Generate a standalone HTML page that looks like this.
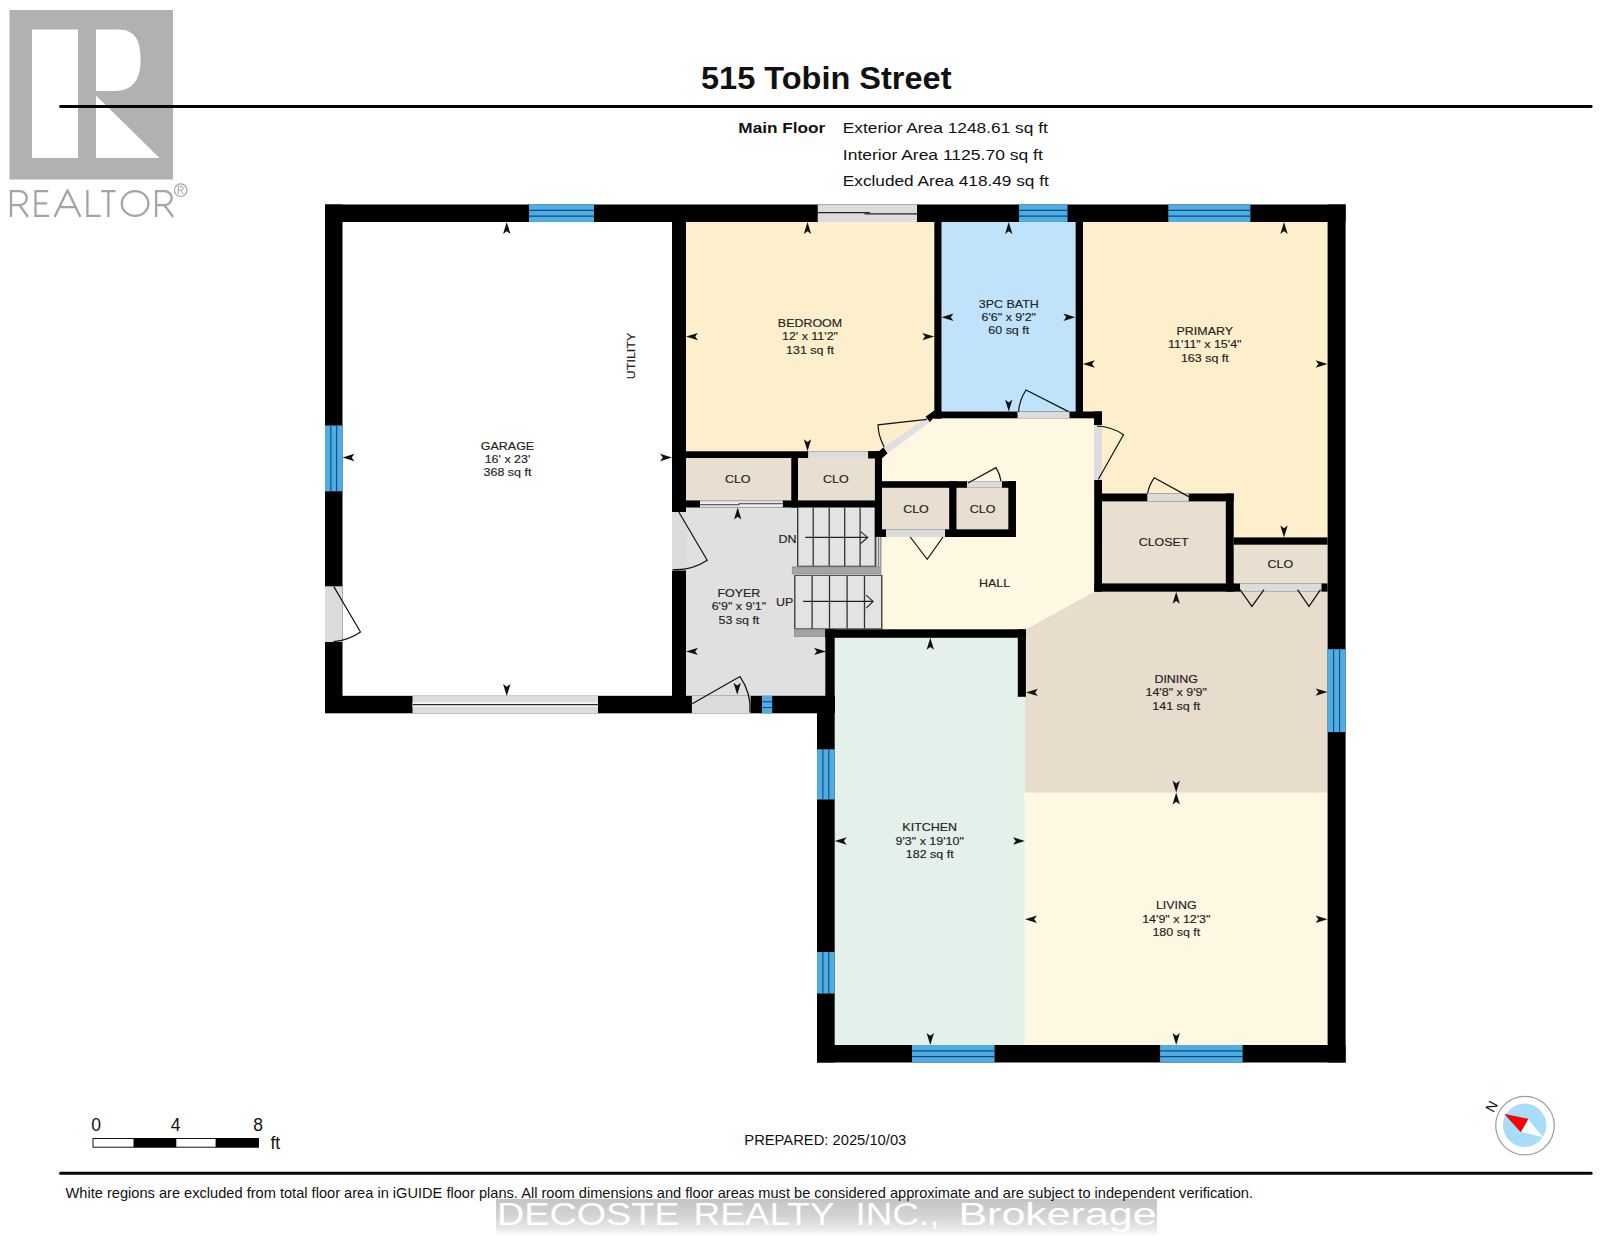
<!DOCTYPE html>
<html><head><meta charset="utf-8"><style>
html,body{margin:0;padding:0;background:#fff;}
body{width:1600px;height:1243px;overflow:hidden;position:relative;font-family:"Liberation Sans",sans-serif;}
svg{position:absolute;left:0;top:0;}
svg text{font-family:"Liberation Sans",sans-serif;}
</style></head><body>
<svg width="1600" height="1243" viewBox="0 0 1600 1243">
<!-- realtor logo -->
<g>
<rect x="9.5" y="10" width="163.5" height="169.5" fill="#b1b1b1"/>
<rect x="32" y="29.5" width="46" height="128.5" fill="#fff"/>
<path d="M96,29.5 L118,29.5 C137,29.5 140.5,43 140.5,60.5 C140.5,80 132,91 115,91 L96,91 Z" fill="#fff"/>
<polygon points="96,95.5 159.5,158 96,158" fill="#fff"/>
<g fill="none" stroke="#a4a4a4" stroke-width="2.3">
<path d="M11,217 V191.1 H19.8 A7,7 0 0 1 19.8,205.1 H11 M19.5,205.1 L28,217"/>
<path d="M48.2,191.1 H35.5 V215.9 H49 M35.5,203.4 H47.2"/>
<path d="M54.6,217 L67.5,190.2 L80.4,217 M59.3,207.2 H75.7" stroke-linejoin="round"/>
<path d="M87.4,190 V215.9 H100.6"/>
<path d="M101.2,191.1 H115.6 M108.4,191.1 V217"/>
<ellipse cx="135.1" cy="203.5" rx="13.3" ry="12.4"/>
<path d="M156.1,217 V191.1 H164.7 A7,7 0 0 1 164.7,205.1 H156.1 M164.4,205.1 L173.2,217"/>
<circle cx="180.7" cy="190.2" r="6.3" stroke-width="1.2"/>
<path d="M178.3,194 V186.4 H181.4 A1.9,1.9 0 0 1 181.4,190.2 H178.3 M181,190.2 L183.3,194" stroke-width="1"/>
</g>
</g>
<!-- header -->
<text x="701" y="88.5" font-size="31.5" font-weight="bold" fill="#111" textLength="250.5" lengthAdjust="spacingAndGlyphs">515 Tobin Street</text>
<rect x="59.1" y="105" width="1533.5" height="2.9" rx="1.4" fill="#050505"/>
<text x="738.3" y="132.8" font-size="15.2" font-weight="bold" fill="#111" textLength="87" lengthAdjust="spacingAndGlyphs">Main Floor</text>
<text x="842.8" y="132.8" font-size="15.2" fill="#111" textLength="205" lengthAdjust="spacingAndGlyphs">Exterior Area 1248.61 sq ft</text>
<text x="842.8" y="159.5" font-size="15.2" fill="#111" textLength="200" lengthAdjust="spacingAndGlyphs">Interior Area 1125.70 sq ft</text>
<text x="842.8" y="186.3" font-size="15.2" fill="#111" textLength="206" lengthAdjust="spacingAndGlyphs">Excluded Area 418.49 sq ft</text>
<rect x="686.00" y="222.00" width="248.30" height="229.30" fill="#fdefcb" />
<rect x="941.50" y="222.00" width="133.90" height="189.60" fill="#bfe3fb" />
<rect x="1082.80" y="222.00" width="244.80" height="315.40" fill="#fdefcb" />
<rect x="1101.00" y="418.00" width="139.00" height="75.50" fill="#fdefcb" />
<polygon points="929.80,418.50 1094.60,418.50 1094.60,591.70 1028.00,629.50 882.00,629.50 882.00,455.00 887.60,453.20" fill="#fef8e3" />
<polygon points="1025.90,629.50 1094.20,591.70 1327.60,591.70 1327.60,792.80 1024.40,792.80 1024.40,696.80" fill="#e8ddcc" />
<rect x="1024.40" y="792.80" width="303.20" height="252.20" fill="#fef8e2" />
<rect x="834.70" y="637.80" width="189.70" height="407.20" fill="#e3f1ea" />
<rect x="686.00" y="507.50" width="139.50" height="188.50" fill="#e0e0e0" />
<rect x="686.00" y="507.50" width="196.00" height="121.80" fill="#e0e0e0" />
<rect x="686.00" y="458.00" width="105.25" height="42.40" fill="#e8dfd0" />
<rect x="798.00" y="458.00" width="76.90" height="42.40" fill="#e8dfd0" />
<rect x="882.00" y="487.80" width="67.20" height="41.50" fill="#e8dfd0" />
<rect x="956.50" y="487.80" width="51.80" height="41.50" fill="#e8dfd0" />
<rect x="1102.00" y="501.40" width="123.80" height="82.00" fill="#e8dfd0" />
<rect x="1233.70" y="544.70" width="93.90" height="38.70" fill="#e8dfd0" />
<rect x="797.50" y="507.50" width="78.80" height="59.10" fill="#e3e3e3" />
<rect x="794.00" y="574.50" width="88.00" height="54.80" fill="#e3e3e3" />
<rect x="792.30" y="566.90" width="88.40" height="7.00" fill="#a3a3a3" stroke="#8c8c8c" stroke-width="0.8"/>
<rect x="794.40" y="629.90" width="31.00" height="6.50" fill="#a3a3a3" stroke="#8c8c8c" stroke-width="0.8"/>
<line x1="797.70" y1="507.50" x2="797.70" y2="566.30" stroke="#333" stroke-width="1.3"/>
<line x1="813.20" y1="507.50" x2="813.20" y2="566.30" stroke="#333" stroke-width="1.3"/>
<line x1="829.20" y1="507.50" x2="829.20" y2="566.30" stroke="#333" stroke-width="1.3"/>
<line x1="844.70" y1="507.50" x2="844.70" y2="566.30" stroke="#333" stroke-width="1.3"/>
<line x1="860.10" y1="507.50" x2="860.10" y2="566.30" stroke="#333" stroke-width="1.3"/>
<line x1="875.30" y1="507.50" x2="875.30" y2="566.30" stroke="#333" stroke-width="1.3"/>
<line x1="797.70" y1="566.20" x2="875.30" y2="566.20" stroke="#444" stroke-width="1.0"/>
<line x1="794.80" y1="575.40" x2="794.80" y2="628.80" stroke="#333" stroke-width="1.3"/>
<line x1="812.10" y1="575.40" x2="812.10" y2="628.80" stroke="#333" stroke-width="1.3"/>
<line x1="829.50" y1="575.40" x2="829.50" y2="628.80" stroke="#333" stroke-width="1.3"/>
<line x1="847.10" y1="575.40" x2="847.10" y2="628.80" stroke="#333" stroke-width="1.3"/>
<line x1="864.50" y1="575.40" x2="864.50" y2="628.80" stroke="#333" stroke-width="1.3"/>
<line x1="881.80" y1="575.40" x2="881.80" y2="628.80" stroke="#333" stroke-width="1.3"/>
<line x1="794.40" y1="575.40" x2="882.40" y2="575.40" stroke="#444" stroke-width="1.0"/>
<line x1="794.40" y1="628.80" x2="882.40" y2="628.80" stroke="#444" stroke-width="1.0"/>
<line x1="876.00" y1="537.00" x2="876.00" y2="566.60" stroke="#555" stroke-width="0.9"/>
<line x1="878.60" y1="537.00" x2="878.60" y2="566.60" stroke="#666" stroke-width="0.9"/>
<line x1="880.80" y1="537.00" x2="880.80" y2="566.60" stroke="#777" stroke-width="0.9"/>
<line x1="805.30" y1="537.40" x2="867.70" y2="537.40" stroke="#222" stroke-width="1.1"/>
<path d="M860.7,531.6 L867.7,537.4 L860.7,543.5" stroke="#222" stroke-width="1.1" fill="none"/>
<line x1="803.10" y1="601.40" x2="873.10" y2="601.40" stroke="#222" stroke-width="1.1"/>
<path d="M866.1,595.1 L873.1,601.4 L866.1,608.1" stroke="#222" stroke-width="1.1" fill="none"/>
<rect x="325.00" y="204.50" width="1020.60" height="17.50" fill="#000" />
<rect x="325.00" y="204.50" width="17.50" height="508.50" fill="#000" />
<rect x="325.00" y="695.80" width="509.70" height="17.50" fill="#000" />
<rect x="817.00" y="696.00" width="17.70" height="366.50" fill="#000" />
<rect x="817.00" y="1045.00" width="528.60" height="17.50" fill="#000" />
<rect x="1327.60" y="204.50" width="18.00" height="858.00" fill="#000" />
<rect x="672.00" y="222.00" width="14.00" height="474.00" fill="#000" />
<rect x="934.30" y="222.00" width="7.20" height="196.50" fill="#000" />
<rect x="1075.60" y="222.00" width="7.40" height="196.00" fill="#000" />
<rect x="934.30" y="411.50" width="167.70" height="6.80" fill="#000" />
<rect x="1094.00" y="411.50" width="8.00" height="13.50" fill="#000" />
<rect x="1094.20" y="480.00" width="7.80" height="111.70" fill="#000" />
<rect x="686.00" y="451.25" width="196.00" height="6.75" fill="#000" />
<rect x="874.90" y="451.25" width="7.10" height="85.75" fill="#000" />
<rect x="791.25" y="458.00" width="6.75" height="49.50" fill="#000" />
<rect x="686.00" y="500.40" width="196.00" height="7.10" fill="#000" />
<polygon points="868.20,451.20 879.00,451.20 883.60,447.30 887.60,453.20 882.00,458.50 868.20,458.50" fill="#000" />
<polygon points="925.50,416.80 934.30,410.50 941.50,410.50 941.50,418.60 933.00,418.60 929.80,422.20" fill="#000" />
<rect x="882.00" y="481.20" width="134.00" height="6.60" fill="#000" />
<rect x="949.20" y="481.20" width="7.30" height="55.80" fill="#000" />
<rect x="1008.30" y="481.20" width="7.70" height="55.80" fill="#000" />
<rect x="875.40" y="529.30" width="140.60" height="7.70" fill="#000" />
<rect x="1101.80" y="493.50" width="131.90" height="7.90" fill="#000" />
<rect x="1225.80" y="493.50" width="7.90" height="98.20" fill="#000" />
<rect x="1094.40" y="583.40" width="233.20" height="8.30" fill="#000" />
<rect x="1233.70" y="537.40" width="93.90" height="7.30" fill="#000" />
<rect x="825.30" y="629.30" width="200.60" height="8.50" fill="#000" />
<rect x="825.30" y="629.30" width="9.40" height="84.00" fill="#000" />
<rect x="1017.80" y="629.30" width="8.10" height="67.50" fill="#000" />
<rect x="817.75" y="204.50" width="99.25" height="17.50" fill="#dcdcdc" />
<line x1="818.00" y1="212.60" x2="870.00" y2="212.60" stroke="#222" stroke-width="1.2"/>
<line x1="864.50" y1="213.80" x2="917.00" y2="213.80" stroke="#222" stroke-width="1.2"/>
<rect x="325.00" y="586.30" width="17.50" height="55.70" fill="#dcdcdc" />
<rect x="412.50" y="695.80" width="185.50" height="17.50" fill="#dcdcdc" />
<rect x="412.50" y="702.30" width="185.50" height="4.60" fill="#f4f4f4" />
<line x1="412.50" y1="704.60" x2="598.00" y2="704.60" stroke="#2a2a2a" stroke-width="1.3"/>
<rect x="672.00" y="512.00" width="14.00" height="58.50" fill="#dcdcdc" />
<rect x="691.90" y="696.00" width="58.70" height="17.30" fill="#dcdcdc" />
<rect x="1017.50" y="411.60" width="52.00" height="6.90" fill="#dcdcdc" />
<rect x="808.10" y="451.25" width="60.00" height="6.75" fill="#dcdcdc" />
<rect x="700.00" y="500.40" width="82.80" height="7.10" fill="#dcdcdc" />
<rect x="700.00" y="502.60" width="82.80" height="3.60" fill="#f2f2f2" />
<line x1="700.00" y1="504.70" x2="739.50" y2="504.70" stroke="#333" stroke-width="1.1"/>
<line x1="738.50" y1="503.80" x2="782.80" y2="503.80" stroke="#333" stroke-width="1.1"/>
<rect x="1094.20" y="425.00" width="7.80" height="55.00" fill="#dcdcdc" />
<rect x="886.00" y="529.30" width="59.00" height="7.70" fill="#dcdcdc" />
<rect x="967.00" y="481.20" width="35.00" height="6.60" fill="#dcdcdc" />
<rect x="1147.30" y="493.50" width="41.40" height="7.90" fill="#dcdcdc" />
<rect x="1240.00" y="583.40" width="81.50" height="8.30" fill="#dcdcdc" />
<polygon points="883.60,447.30 926.20,417.50 929.80,422.20 887.60,453.20" fill="#e0e0e2" />
<rect x="529.00" y="204.50" width="65.00" height="17.50" fill="#4fade2" />
<line x1="529.00" y1="210.33" x2="594.00" y2="210.33" stroke="#0d4a82" stroke-width="1.1"/>
<line x1="529.00" y1="216.17" x2="594.00" y2="216.17" stroke="#0d4a82" stroke-width="1.1"/>
<rect x="1019.00" y="204.50" width="48.50" height="17.50" fill="#4fade2" />
<line x1="1019.00" y1="210.33" x2="1067.50" y2="210.33" stroke="#0d4a82" stroke-width="1.1"/>
<line x1="1019.00" y1="216.17" x2="1067.50" y2="216.17" stroke="#0d4a82" stroke-width="1.1"/>
<rect x="1168.30" y="204.50" width="82.10" height="17.50" fill="#4fade2" />
<line x1="1168.30" y1="210.33" x2="1250.40" y2="210.33" stroke="#0d4a82" stroke-width="1.1"/>
<line x1="1168.30" y1="216.17" x2="1250.40" y2="216.17" stroke="#0d4a82" stroke-width="1.1"/>
<rect x="325.00" y="425.50" width="17.50" height="65.80" fill="#4fade2" />
<line x1="330.83" y1="425.50" x2="330.83" y2="491.30" stroke="#0d4a82" stroke-width="1.1"/>
<line x1="336.67" y1="425.50" x2="336.67" y2="491.30" stroke="#0d4a82" stroke-width="1.1"/>
<rect x="761.90" y="696.00" width="10.30" height="17.30" fill="#4fade2" />
<line x1="761.90" y1="701.77" x2="772.20" y2="701.77" stroke="#0d4a82" stroke-width="1.1"/>
<line x1="761.90" y1="707.53" x2="772.20" y2="707.53" stroke="#0d4a82" stroke-width="1.1"/>
<rect x="817.00" y="749.30" width="17.70" height="50.20" fill="#4fade2" />
<line x1="822.90" y1="749.30" x2="822.90" y2="799.50" stroke="#0d4a82" stroke-width="1.1"/>
<line x1="828.80" y1="749.30" x2="828.80" y2="799.50" stroke="#0d4a82" stroke-width="1.1"/>
<rect x="817.00" y="952.00" width="17.70" height="41.50" fill="#4fade2" />
<line x1="822.90" y1="952.00" x2="822.90" y2="993.50" stroke="#0d4a82" stroke-width="1.1"/>
<line x1="828.80" y1="952.00" x2="828.80" y2="993.50" stroke="#0d4a82" stroke-width="1.1"/>
<rect x="912.00" y="1045.00" width="82.60" height="17.50" fill="#4fade2" />
<line x1="912.00" y1="1050.83" x2="994.60" y2="1050.83" stroke="#0d4a82" stroke-width="1.1"/>
<line x1="912.00" y1="1056.67" x2="994.60" y2="1056.67" stroke="#0d4a82" stroke-width="1.1"/>
<rect x="1160.10" y="1045.00" width="82.50" height="17.50" fill="#4fade2" />
<line x1="1160.10" y1="1050.83" x2="1242.60" y2="1050.83" stroke="#0d4a82" stroke-width="1.1"/>
<line x1="1160.10" y1="1056.67" x2="1242.60" y2="1056.67" stroke="#0d4a82" stroke-width="1.1"/>
<rect x="1327.60" y="649.20" width="18.00" height="82.90" fill="#4fade2" />
<line x1="1333.60" y1="649.20" x2="1333.60" y2="732.10" stroke="#0d4a82" stroke-width="1.1"/>
<line x1="1339.60" y1="649.20" x2="1339.60" y2="732.10" stroke="#0d4a82" stroke-width="1.1"/>
<path d="M333.8,586.6 L360.5,632 A54,54 0 0 1 333.5,641.6" stroke="#111" stroke-width="1.2" fill="none"/>
<path d="M678.8,512 L707.2,560.2 A56.5,56.5 0 0 1 672.7,569.5" stroke="#111" stroke-width="1.2" fill="none"/>
<path d="M692.2,703.75 L740,676.6 A56.5,56.5 0 0 1 750,712.5" stroke="#111" stroke-width="1.2" fill="none"/>
<path d="M927,419.4 L878,424.8 A50,50 0 0 0 884.2,447" stroke="#111" stroke-width="1.2" fill="none"/>
<path d="M1068.6,411.6 L1026,390 A47,47 0 0 0 1018.5,411.6" stroke="#111" stroke-width="1.2" fill="none"/>
<path d="M1098.4,479.2 L1123.5,434.7 A51,51 0 0 0 1097,426" stroke="#111" stroke-width="1.2" fill="none"/>
<path d="M968,483 L996,467.6 A33,33 0 0 1 1001,481.2" stroke="#111" stroke-width="1.2" fill="none"/>
<path d="M1188.7,496.6 L1154.2,477.8 A40,40 0 0 0 1147.5,493.5" stroke="#111" stroke-width="1.2" fill="none"/>
<path d="M910.2,537 L927.2,559.3 L943,537" stroke="#111" stroke-width="1.2" fill="none"/>
<path d="M1240,589.7 L1251.9,606.4 L1264,589.7" stroke="#111" stroke-width="1.2" fill="none"/>
<path d="M1297.5,589.7 L1309,606.4 L1320.5,589.7" stroke="#111" stroke-width="1.2" fill="none"/>
<polygon points="506.75,222.00 510.45,234.00 506.75,231.20 503.05,234.00" fill="#111" />
<polygon points="506.75,696.00 503.05,684.00 506.75,686.80 510.45,684.00" fill="#111" />
<polygon points="342.50,457.50 354.50,453.80 351.70,457.50 354.50,461.20" fill="#111" />
<polygon points="672.00,457.50 660.00,461.20 662.80,457.50 660.00,453.80" fill="#111" />
<polygon points="807.50,222.00 811.20,234.00 807.50,231.20 803.80,234.00" fill="#111" />
<polygon points="807.50,451.30 803.80,439.30 807.50,442.10 811.20,439.30" fill="#111" />
<polygon points="686.00,336.60 698.00,332.90 695.20,336.60 698.00,340.30" fill="#111" />
<polygon points="934.30,336.60 922.30,340.30 925.10,336.60 922.30,332.90" fill="#111" />
<polygon points="1008.75,222.00 1012.45,234.00 1008.75,231.20 1005.05,234.00" fill="#111" />
<polygon points="1008.75,411.60 1005.05,399.60 1008.75,402.40 1012.45,399.60" fill="#111" />
<polygon points="941.50,317.30 953.50,313.60 950.70,317.30 953.50,321.00" fill="#111" />
<polygon points="1075.40,317.30 1063.40,321.00 1066.20,317.30 1063.40,313.60" fill="#111" />
<polygon points="1284.00,222.00 1287.70,234.00 1284.00,231.20 1280.30,234.00" fill="#111" />
<polygon points="1284.00,537.40 1280.30,525.40 1284.00,528.20 1287.70,525.40" fill="#111" />
<polygon points="1082.80,364.00 1094.80,360.30 1092.00,364.00 1094.80,367.70" fill="#111" />
<polygon points="1327.60,364.00 1315.60,367.70 1318.40,364.00 1315.60,360.30" fill="#111" />
<polygon points="737.70,507.50 741.40,519.50 737.70,516.70 734.00,519.50" fill="#111" />
<polygon points="737.20,694.70 733.50,682.70 737.20,685.50 740.90,682.70" fill="#111" />
<polygon points="686.00,651.40 698.00,647.70 695.20,651.40 698.00,655.10" fill="#111" />
<polygon points="826.00,651.40 814.00,655.10 816.80,651.40 814.00,647.70" fill="#111" />
<polygon points="930.30,637.80 934.00,649.80 930.30,647.00 926.60,649.80" fill="#111" />
<polygon points="930.30,1045.00 926.60,1033.00 930.30,1035.80 934.00,1033.00" fill="#111" />
<polygon points="834.70,841.00 846.70,837.30 843.90,841.00 846.70,844.70" fill="#111" />
<polygon points="1025.00,841.00 1013.00,844.70 1015.80,841.00 1013.00,837.30" fill="#111" />
<polygon points="1176.20,591.70 1179.90,603.70 1176.20,600.90 1172.50,603.70" fill="#111" />
<polygon points="1176.20,792.60 1172.50,780.60 1176.20,783.40 1179.90,780.60" fill="#111" />
<polygon points="1025.90,692.40 1037.90,688.70 1035.10,692.40 1037.90,696.10" fill="#111" />
<polygon points="1327.60,692.10 1315.60,695.80 1318.40,692.10 1315.60,688.40" fill="#111" />
<polygon points="1176.20,792.60 1179.90,804.60 1176.20,801.80 1172.50,804.60" fill="#111" />
<polygon points="1176.20,1045.00 1172.50,1033.00 1176.20,1035.80 1179.90,1033.00" fill="#111" />
<polygon points="1025.00,919.20 1037.00,915.50 1034.20,919.20 1037.00,922.90" fill="#111" />
<polygon points="1327.60,919.20 1315.60,922.90 1318.40,919.20 1315.60,915.50" fill="#111" />
<text x="0" y="0" transform="translate(507.50 449.50) scale(1.075 1)" font-size="11.6" text-anchor="middle" fill="#222" stroke="#222" stroke-width="0.15" font-weight="normal">GARAGE</text>
<text x="0" y="0" transform="translate(507.50 462.90) scale(1.075 1)" font-size="11.6" text-anchor="middle" fill="#222" stroke="#222" stroke-width="0.15" font-weight="normal">16' x 23'</text>
<text x="0" y="0" transform="translate(507.50 476.30) scale(1.075 1)" font-size="11.6" text-anchor="middle" fill="#222" stroke="#222" stroke-width="0.15" font-weight="normal">368 sq ft</text>
<text x="0" y="0" transform="translate(810.00 327.00) scale(1.075 1)" font-size="11.6" text-anchor="middle" fill="#222" stroke="#222" stroke-width="0.15" font-weight="normal">BEDROOM</text>
<text x="0" y="0" transform="translate(810.00 340.40) scale(1.075 1)" font-size="11.6" text-anchor="middle" fill="#222" stroke="#222" stroke-width="0.15" font-weight="normal">12' x 11'2"</text>
<text x="0" y="0" transform="translate(810.00 353.80) scale(1.075 1)" font-size="11.6" text-anchor="middle" fill="#222" stroke="#222" stroke-width="0.15" font-weight="normal">131 sq ft</text>
<text x="0" y="0" transform="translate(1008.75 307.50) scale(1.075 1)" font-size="11.6" text-anchor="middle" fill="#222" stroke="#222" stroke-width="0.15" font-weight="normal">3PC BATH</text>
<text x="0" y="0" transform="translate(1008.75 320.90) scale(1.075 1)" font-size="11.6" text-anchor="middle" fill="#222" stroke="#222" stroke-width="0.15" font-weight="normal">6'6" x 9'2"</text>
<text x="0" y="0" transform="translate(1008.75 334.30) scale(1.075 1)" font-size="11.6" text-anchor="middle" fill="#222" stroke="#222" stroke-width="0.15" font-weight="normal">60 sq ft</text>
<text x="0" y="0" transform="translate(1204.80 334.70) scale(1.075 1)" font-size="11.6" text-anchor="middle" fill="#222" stroke="#222" stroke-width="0.15" font-weight="normal">PRIMARY</text>
<text x="0" y="0" transform="translate(1204.80 348.10) scale(1.075 1)" font-size="11.6" text-anchor="middle" fill="#222" stroke="#222" stroke-width="0.15" font-weight="normal">11'11" x 15'4"</text>
<text x="0" y="0" transform="translate(1204.80 361.50) scale(1.075 1)" font-size="11.6" text-anchor="middle" fill="#222" stroke="#222" stroke-width="0.15" font-weight="normal">163 sq ft</text>
<text x="0" y="0" transform="translate(738.90 597.00) scale(1.075 1)" font-size="11.6" text-anchor="middle" fill="#222" stroke="#222" stroke-width="0.15" font-weight="normal">FOYER</text>
<text x="0" y="0" transform="translate(738.90 610.40) scale(1.075 1)" font-size="11.6" text-anchor="middle" fill="#222" stroke="#222" stroke-width="0.15" font-weight="normal">6'9" x 9'1"</text>
<text x="0" y="0" transform="translate(738.90 623.80) scale(1.075 1)" font-size="11.6" text-anchor="middle" fill="#222" stroke="#222" stroke-width="0.15" font-weight="normal">53 sq ft</text>
<text x="0" y="0" transform="translate(929.70 831.40) scale(1.075 1)" font-size="11.6" text-anchor="middle" fill="#222" stroke="#222" stroke-width="0.15" font-weight="normal">KITCHEN</text>
<text x="0" y="0" transform="translate(929.70 844.80) scale(1.075 1)" font-size="11.6" text-anchor="middle" fill="#222" stroke="#222" stroke-width="0.15" font-weight="normal">9'3" x 19'10"</text>
<text x="0" y="0" transform="translate(929.70 858.20) scale(1.075 1)" font-size="11.6" text-anchor="middle" fill="#222" stroke="#222" stroke-width="0.15" font-weight="normal">182 sq ft</text>
<text x="0" y="0" transform="translate(1176.20 682.70) scale(1.075 1)" font-size="11.6" text-anchor="middle" fill="#222" stroke="#222" stroke-width="0.15" font-weight="normal">DINING</text>
<text x="0" y="0" transform="translate(1176.20 696.10) scale(1.075 1)" font-size="11.6" text-anchor="middle" fill="#222" stroke="#222" stroke-width="0.15" font-weight="normal">14'8" x 9'9"</text>
<text x="0" y="0" transform="translate(1176.20 709.50) scale(1.075 1)" font-size="11.6" text-anchor="middle" fill="#222" stroke="#222" stroke-width="0.15" font-weight="normal">141 sq ft</text>
<text x="0" y="0" transform="translate(1176.30 909.40) scale(1.075 1)" font-size="11.6" text-anchor="middle" fill="#222" stroke="#222" stroke-width="0.15" font-weight="normal">LIVING</text>
<text x="0" y="0" transform="translate(1176.30 922.80) scale(1.075 1)" font-size="11.6" text-anchor="middle" fill="#222" stroke="#222" stroke-width="0.15" font-weight="normal">14'9" x 12'3"</text>
<text x="0" y="0" transform="translate(1176.30 936.20) scale(1.075 1)" font-size="11.6" text-anchor="middle" fill="#222" stroke="#222" stroke-width="0.15" font-weight="normal">180 sq ft</text>
<text x="0" y="0" transform="translate(737.70 483.30) scale(1.075 1)" font-size="11.6" text-anchor="middle" fill="#222" stroke="#222" stroke-width="0.15" font-weight="normal">CLO</text>
<text x="0" y="0" transform="translate(835.80 483.30) scale(1.075 1)" font-size="11.6" text-anchor="middle" fill="#222" stroke="#222" stroke-width="0.15" font-weight="normal">CLO</text>
<text x="0" y="0" transform="translate(916.00 512.90) scale(1.075 1)" font-size="11.6" text-anchor="middle" fill="#222" stroke="#222" stroke-width="0.15" font-weight="normal">CLO</text>
<text x="0" y="0" transform="translate(982.60 512.90) scale(1.075 1)" font-size="11.6" text-anchor="middle" fill="#222" stroke="#222" stroke-width="0.15" font-weight="normal">CLO</text>
<text x="0" y="0" transform="translate(994.60 587.30) scale(1.075 1)" font-size="11.6" text-anchor="middle" fill="#222" stroke="#222" stroke-width="0.15" font-weight="normal">HALL</text>
<text x="0" y="0" transform="translate(1163.60 546.40) scale(1.075 1)" font-size="11.6" text-anchor="middle" fill="#222" stroke="#222" stroke-width="0.15" font-weight="normal">CLOSET</text>
<text x="0" y="0" transform="translate(1280.30 568.30) scale(1.075 1)" font-size="11.6" text-anchor="middle" fill="#222" stroke="#222" stroke-width="0.15" font-weight="normal">CLO</text>
<text x="0" y="0" transform="translate(796.50 542.50) scale(1.075 1)" font-size="11.6" text-anchor="end" fill="#222" stroke="#222" stroke-width="0.15" font-weight="normal">DN</text>
<text x="0" y="0" transform="translate(793.30 605.80) scale(1.075 1)" font-size="11.6" text-anchor="end" fill="#222" stroke="#222" stroke-width="0.15" font-weight="normal">UP</text>
<text x="0" y="0" transform="translate(634.50 356.00) rotate(-90) scale(1.075 1)" font-size="11.6" text-anchor="middle" fill="#222" stroke="#222" stroke-width="0.15" font-weight="normal">UTILITY</text>
<!-- scale bar -->
<rect x="93" y="1138.5" width="165.5" height="8.7" fill="#fff" stroke="#111" stroke-width="1"/>
<rect x="133.5" y="1138.5" width="42.8" height="8.7" fill="#000"/>
<rect x="215.6" y="1138.5" width="42.8" height="8.7" fill="#000"/>
<text x="96" y="1131" font-size="17.5" text-anchor="middle" fill="#111">0</text>
<text x="175.5" y="1131" font-size="17.5" text-anchor="middle" fill="#111">4</text>
<text x="258" y="1131" font-size="17.5" text-anchor="middle" fill="#111">8</text>
<text x="270.5" y="1148.5" font-size="17.5" fill="#111">ft</text>
<text x="744.3" y="1145" font-size="15" fill="#111" textLength="162" lengthAdjust="spacingAndGlyphs">PREPARED: 2025/10/03</text>
<!-- compass -->
<circle cx="1525" cy="1125.6" r="29.3" fill="#fff" stroke="#9a9a9a" stroke-width="1.2"/>
<circle cx="1524.7" cy="1125.3" r="21.7" fill="#a9dcf8"/>
<polygon points="1527.9,1119.1 1520.7,1131.8 1543.1,1137.2" fill="#fff"/>
<polygon points="1505.1,1114.4 1527.9,1119.1 1520.7,1131.8" fill="#f00" stroke="#b00000" stroke-width="0.6" stroke-linejoin="round"/>
<text x="1491.5" y="1111.5" font-size="14" text-anchor="middle" fill="#111" transform="rotate(-62 1491.5 1106.5)">N</text>
<!-- footer -->
<rect x="59.1" y="1171.7" width="1533.5" height="3.1" rx="1.5" fill="#050505"/>
<defs><linearGradient id="wmg" gradientUnits="userSpaceOnUse" x1="0" y1="1199" x2="0" y2="1236">
<stop offset="0" stop-color="#c4c4c4"/><stop offset="0.45" stop-color="#d3d3d3"/><stop offset="0.8" stop-color="#e8e8e8"/><stop offset="1" stop-color="#ffffff"/></linearGradient></defs>
<rect x="496" y="1199" width="661" height="37" fill="url(#wmg)"/>
<text x="65.5" y="1198.4" font-size="14.3" fill="#111" textLength="1187.5" lengthAdjust="spacingAndGlyphs">White regions are excluded from total floor area in iGUIDE floor plans. All room dimensions and floor areas must be considered approximate and are subject to independent verification.</text>
<g font-size="31" fill="#fff">
<text x="497" y="1225.3" textLength="182.5" lengthAdjust="spacingAndGlyphs">DECOSTE</text>
<text x="693.5" y="1225.3" textLength="141" lengthAdjust="spacingAndGlyphs">REALTY</text>
<text x="855.5" y="1225.3" textLength="84" lengthAdjust="spacingAndGlyphs">INC.,</text>
<text x="958.5" y="1225.3" textLength="198" lengthAdjust="spacingAndGlyphs">Brokerage</text>
</g>
</svg>
</body></html>
